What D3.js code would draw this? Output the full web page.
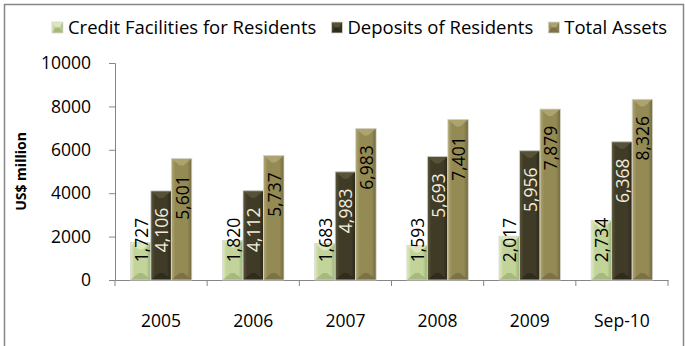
<!DOCTYPE html>
<html>
<head>
<meta charset="utf-8">
<script src="https://cdn.jsdelivr.net/npm/d3@7/dist/d3.min.js"></script>
<style>
  html, body { margin: 0; padding: 0; background: #fff; }
  svg { display: block; }
  text { font-family: "Open Sans", Lato, sans-serif; }
</style>
</head>
<body>
<svg id="chart" width="685" height="346"></svg>
<script>
// Banking aggregates, US$ million
const categories = ["2005", "2006", "2007", "2008", "2009", "Sep-10"];
const seriesNames = ["Credit Facilities for Residents", "Deposits of Residents", "Total Assets"];
const creditFacilities = [1727, 1820, 1683, 1593, 2017, 2734];
const depositsOfResidents = [4106, 4112, 4983, 5693, 5956, 6368];
const totalAssets = [5601, 5737, 6983, 7401, 7879, 8326];
const yTicks = [0, 2000, 4000, 6000, 8000, 10000];
const yTitle = "US$ million";

const seriesValues = [creditFacilities, depositsOfResidents, totalAssets];

// fill palette per series: highlight, base, shadow, label colour
const palette = [
  { light: "#e0eac4", base: "#c2d49a", dark: "#9dae72", label: "#000000" },
  { light: "#5c563b", base: "#3f3b27", dark: "#29261a", label: "#f3ecdc" },
  { light: "#b0a774", base: "#948a54", dark: "#72683e", label: "#000000" }
];

const FONT = "'Open Sans', Lato, sans-serif";
const svg = d3.select("#chart");
const defs = svg.append("defs");

palette.forEach((p, i) => {
  const g = defs.append("linearGradient")
    .attr("id", "grad" + i)
    .attr("x1", "0%").attr("x2", "100%").attr("y1", "0%").attr("y2", "0%");
  g.append("stop").attr("offset", "0%").attr("stop-color", p.light);
  g.append("stop").attr("offset", "20%").attr("stop-color", p.base);
  g.append("stop").attr("offset", "78%").attr("stop-color", p.base);
  g.append("stop").attr("offset", "100%").attr("stop-color", p.dark);
});

// outer frame
svg.append("rect")
  .attr("x", 4.5).attr("y", 4.5)
  .attr("width", 679).attr("height", 360)
  .attr("fill", "none")
  .attr("stroke", "#868686")
  .attr("stroke-width", 1.5);

const plot = { left: 115, right: 668, top: 63, bottom: 280 };

const x0 = d3.scaleBand()
  .domain(categories)
  .range([plot.left, plot.right])
  .paddingInner(0).paddingOuter(0);

const bw = x0.bandwidth();
const gap = bw * 1.5 / 4.5;
const x1 = d3.scaleBand()
  .domain(d3.range(seriesNames.length))
  .range([gap / 2, bw - gap / 2]);

const y = d3.scaleLinear().domain([0, 10000]).range([plot.bottom, plot.top]);

const axisColor = "#868686";

// y axis
const yAxis = svg.append("g")
  .attr("transform", `translate(${plot.left},0)`)
  .call(d3.axisLeft(y).tickValues(yTicks).tickSize(6).tickPadding(18).tickFormat(d3.format("d")));
yAxis.select(".domain").attr("stroke", axisColor).attr("stroke-width", 1);
yAxis.selectAll(".tick line").attr("stroke", axisColor);
yAxis.selectAll(".tick text")
  .attr("font-size", 17.5).attr("fill", "#000")
  .attr("font-family", FONT);

// x axis
const xAxis = svg.append("g")
  .attr("transform", `translate(0,${plot.bottom})`)
  .call(d3.axisBottom(x0).tickSize(0).tickPadding(0));
xAxis.select(".domain").attr("stroke", axisColor).attr("stroke-width", 1);
xAxis.selectAll(".tick text")
  .attr("font-size", 17.5).attr("fill", "#000")
  .attr("font-family", FONT)
  .attr("y", 47).attr("dy", "0");
// category separator ticks
const boundaries = categories.map(c => x0(c)).concat([x0.range()[1]]);
xAxis.selectAll(".sep")
  .data(boundaries)
  .enter().append("line")
  .attr("class", "sep")
  .attr("x1", d => d).attr("x2", d => d)
  .attr("y1", 0).attr("y2", 6)
  .attr("stroke", axisColor);

// y title
svg.append("text")
  .attr("transform", `translate(26,${(plot.top + plot.bottom) / 2}) rotate(-90)`)
  .attr("text-anchor", "middle")
  .attr("font-size", 14)
  .attr("font-weight", "bold")
  .text(yTitle);

// draws a bevelled bar
function bevelBar(g, x, top, w, bottom, i) {
  const p = palette[i];
  const h = bottom - top;
  const d = Math.min(7, h / 2);
  g.append("rect")
    .attr("x", x).attr("y", top).attr("width", w).attr("height", h)
    .attr("fill", `url(#grad${i})`);
  g.append("path")
    .attr("d", `M${x},${top}L${x + w},${top}L${x + w / 2 + 2},${top + d}L${x + w / 2 - 2},${top + d}Z`)
    .attr("fill", p.light).attr("opacity", 0.85);
  g.append("path")
    .attr("d", `M${x},${bottom}L${x + w},${bottom}L${x + w / 2 + 2},${bottom - d}L${x + w / 2 - 2},${bottom - d}Z`)
    .attr("fill", p.dark).attr("opacity", 0.7);
  g.append("rect")
    .attr("x", x).attr("y", top).attr("width", w).attr("height", h)
    .attr("fill", "none").attr("stroke", "#d8d8d0").attr("stroke-width", 0.8);
}

const fmt = d3.format(",");
const barsLayer = svg.append("g");
const labelsLayer = svg.append("g");

categories.forEach((c, ci) => {
  seriesValues.forEach((vals, si) => {
    const v = vals[ci];
    const bx = x0(c) + x1(si);
    const w = x1.bandwidth();
    const top = y(v);
    bevelBar(barsLayer, bx, top, w, y(0), si);
    const cy = Math.min(top + 39, y(0) - 40);
    labelsLayer.append("text")
      .attr("transform", `translate(${bx + w / 2},${cy}) rotate(-90)`)
      .attr("text-anchor", "middle")
      .attr("dy", "0.4em")
      .attr("font-size", 17.5)
      .attr("fill", palette[si].label)
      .text(fmt(v));
  });
});

// legend
const legend = svg.append("g");
const items = seriesNames.map((name, i) => {
  const g = legend.append("g");
  bevelBar(g, 0, -5.5, 11, 5.5, i);
  const t = g.append("text")
    .attr("x", 16).attr("y", 0).attr("dy", "0.36em")
    .attr("font-size", 18.5)
    .text(name);
  return { g, width: 16 + t.node().getComputedTextLength() };
});
const itemGap = 15;
const totalW = d3.sum(items, d => d.width) + itemGap * (items.length - 1);
let lx = 359.5 - totalW / 2;
items.forEach(it => {
  it.g.attr("transform", `translate(${lx},27.5)`);
  lx += it.width + itemGap;
});
</script>
</body>
</html>
